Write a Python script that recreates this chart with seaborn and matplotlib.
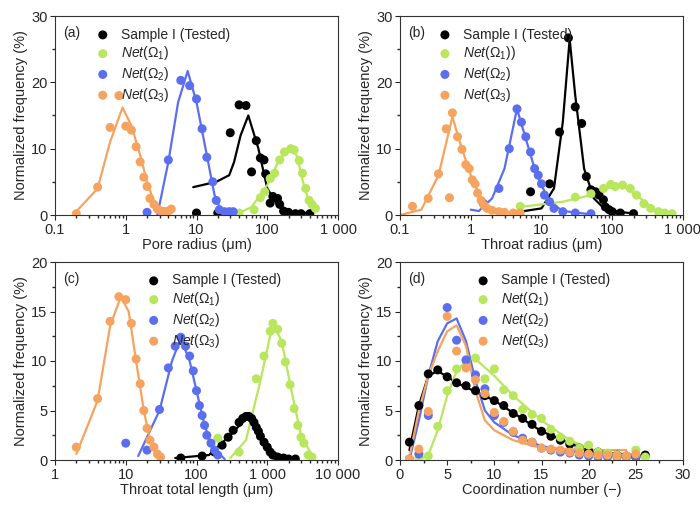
import matplotlib
matplotlib.use("Agg")
import matplotlib.pyplot as plt
import matplotlib.ticker as mt
import seaborn as sns
import numpy as np

sns.set_theme(style="ticks")
plt.rcParams['font.family'] = ['Liberation Sans', 'DejaVu Sans']
plt.rcParams['mathtext.fontset'] = 'custom'
plt.rcParams['mathtext.rm'] = 'Liberation Sans'
plt.rcParams['mathtext.it'] = 'Liberation Sans:italic'

C_BLACK, C_GREEN, C_BLUE, C_ORANGE = "#000000", "#b8e65c", "#5b6ef0", "#f5a35f"

# ---------- panel (a) pore radius ----------
a_or_x = [0.2,0.4,0.6,0.8,1.0,1.2,1.4,1.6,1.8,2.0,2.2,2.5,2.8,3.2,3.6,4.0,4.4]
a_or_y = [0.2,4.2,13.2,18,13.4,12.8,10.3,8,5.7,4.3,2.5,1.6,0.9,0.6,0.5,0.6,0.9]
a_or_fx = [0.18,0.4,0.6,0.9,1.2,1.6,2,2.5,3,4,4.5]
a_or_fy = [0,4,11,16.2,13.5,9,5,2,0.7,0.3,0.3]
a_bl_x = [2,4,6,8,10,12,14,17,19,21,25,29,33]
a_bl_y = [0.4,8.3,20.3,19.5,17.5,13,8.7,5,2.2,0.8,0.5,0.5,0.5]
a_bl_fx = [2.8,4,5.5,7.5,10,14,18,22,35]
a_bl_fy = [0,8,17,21.7,17,9,3,0.8,0]
a_bk_x = [10,20,30,40,50,60,70,80,90,95,110,120,140,150,170,200,250,300,400]
a_bk_y = [0.3,0.3,12.4,16.6,16.5,6.5,11.2,8.6,8.3,6.2,1.8,2.8,2.5,1.6,0.6,0.4,0.2,0.2,0.2]
a_bk_fx = [9,19,29,34,42,54,75,100,140,215,410]
a_bk_fy = [4.2,5,6,8,12,15,10,4,1.5,0.4,0.3]
a_gr_x = [40,65,80,92,110,127,150,175,215,240,283,315,350,390,430,480]
a_gr_y = [0.3,0.8,2.6,3.5,5.5,6.3,8.3,9.5,10,9.8,8.2,6.3,4,2.2,1.6,1]
a_gr_fx = [35,60,100,150,210,260,320,400,450]
a_gr_fy = [0,1.2,4.5,8.5,10,9,5,1.5,0.5]

# ---------- panel (b) throat radius ----------
b_or_x = [0.15,0.25,0.35,0.45,0.5,0.55,0.65,0.75,0.85,0.95,1.05,1.15,1.25,1.4,1.55,1.7,2,2.5,3,4,5]
b_or_y = [1.3,2.5,6.2,13,2.6,15.4,11.8,9.9,7.6,7,5.3,4.7,3.3,2.2,1.4,1,0.7,0.5,0.4,0.3,0.3]
b_or_fx = [0.1,0.2,0.35,0.55,0.7,1,1.4,2,3,5]
b_or_fy = [0,0.8,6,14.8,11,6,2.5,0.7,0.3,0.2]
b_bl_x = [1.5,2.5,3.5,4.5,5.2,6,7,8,9,10,11,13,15,20,30,50]
b_bl_y = [1.8,4,10,16,14,11.8,9.5,7,6,4.7,3,2,1,0.5,0.3,0.2]
b_bl_fx = [1.0,1.3,2,3,4.5,6,8,10,13,20,50]
b_bl_fy = [0.8,0.6,2.5,7,16,11.5,7,4.5,2,0.6,0.1]
b_bk_x = [7,13,18,24,30,37,43,50,58,65,75,80,90,100,130,200]
b_bk_y = [3.5,4.7,12.5,26.7,16.3,13.8,5.8,3.8,3.5,3,2.3,1.2,0.8,0.5,0.3,0.2]
b_bk_fx = [5,10,15,20,25,30,40,55,80,200]
b_bk_fy = [0.5,1,4,14,26.5,18,7,2.5,0.8,0.2]
b_gr_x = [5,30,50,75,95,110,140,180,220,280,350,450,550,700]
b_gr_y = [1.3,2.7,3.2,4,4.6,4.3,4.5,4,3,1.7,1,0.5,0.3,0.2]
b_gr_fx = [5,20,50,100,150,250,400,700]
b_gr_fy = [1.2,2,3,4.3,4.2,2.5,0.8,0.1]

# ---------- panel (c) throat total length ----------
c_or_x = [2,4,6,8,10,12,14,16,18,20,22,25,28,31]
c_or_y = [1.3,6.2,14,16.5,16.2,13.8,10.2,7.7,5,3.2,2,1.3,0.6,0.3]
c_or_fx = [2,4,6,8.5,11,14,18,22,30]
c_or_fy = [0.6,6,13.5,16.5,15,10,5,2,0.3]
c_bl_x = [10,20,30,40,50,60,70,80,90,100,110,120,130,140,160,180,200]
c_bl_y = [1.7,1,5.1,9.3,11.5,12.4,11.5,10.5,9,7,5.5,4.5,3.5,2.5,1.7,1,0.5]
c_bl_fx = [15,30,45,60,80,100,130,170,250]
c_bl_fy = [0.4,5,10,12.3,10,7,3.5,1.2,0.1]
c_bk_x = [60,120,180,230,280,330,400,450,500,550,600,650,700,750,800,900,1000,1100,1200,1400,1700,2000,2500]
c_bk_y = [0.2,0.4,0.8,1.5,2.3,3,3.8,4.2,4.4,4.4,4.2,3.8,3.3,2.9,2.4,1.8,1.3,0.8,0.5,0.3,0.2,0.1,0.1]
c_bk_fx = [50,150,300,550,800,1200,2500]
c_bk_fy = [0.2,0.5,2.5,4.5,2.5,0.6,0.05]
c_gr_x = [200,400,700,900,1100,1200,1400,1600,1800,2100,2400,2700,3000,3300,3800,4300]
c_gr_y = [2.2,0.8,8.2,10.5,13,13.8,13.2,11.8,9.9,7.6,5.2,3.5,2.3,1.7,0.5,0.3]
c_gr_fx = [300,500,800,1200,1600,2200,3000,4500]
c_gr_fy = [0.2,2,8,13.8,12,7,2.5,0.2]

# ---------- panel (d) coordination number ----------
d_bk_x = list(range(1, 27))
d_bk_y = [1.8,5.5,8.7,9.1,8.4,7.8,7.5,7.0,6.5,6.0,5.5,4.7,4.2,3.6,2.9,2.4,2.0,1.6,1.2,0.9,0.8,0.6,0.5,0.4,0.3,0.5]
d_bk_fx = [1,2,3,4,6,10,15,20,26]
d_bk_fy = [1,5.5,8.5,9,7.8,6,2.9,0.9,0.4]
d_gr_x = list(range(2, 27))
d_gr_y = [0.2,0.4,3.4,7,9.2,10.1,10.3,8.2,9.2,7.1,6.5,5.1,4.6,4.2,3.1,2.3,1.9,1.2,1.5,0.8,0.7,0.5,0.4,1.0,0.3]
d_gr_fx = [2,3,4,5,6,7,8,10,12,15,18,21,26]
d_gr_fy = [0,0.5,3,6.5,9,10,10.2,8.5,6.5,4,2,0.8,0.3]
d_bl_x = [1,2,3,5,6,7,8,9,10,11,12,13,14,15,16,17,18,19,20,21,22,23,24,25]
d_bl_y = [0.1,0.6,4.5,15.4,12.1,10.1,8.6,7.2,4.5,3.8,2.8,2.2,1.8,1.2,1.0,0.8,0.7,0.5,0.4,0.3,0.3,0.3,0.3,0.3]
d_bl_fx = [1,2,3,4,5,6,7,8,9,10,12,15,20,24]
d_bl_fy = [0,4,8.5,12,13.8,14.3,12,8,5,3.8,2.5,1.4,0.6,0.3]
d_or_x = [1,2,3,5,6,7,8,9,10,11,12,13,14,15,16,17,18,19,20,21,22,23,24,25]
d_or_y = [0.1,1.1,4.9,14.5,11,9.3,8.1,6.7,4.8,3.9,2.9,2,1.8,1.2,1.1,1.0,0.8,0.7,0.6,0.5,0.5,0.4,0.4,0.6]
d_or_fx = [1,2,3,4,5,6,7,8,9,10,12,15,20,24]
d_or_fy = [0.3,5,8.5,11,13,13.6,11.5,7,4,3,2,1.2,1,1]

labels_a = ["Sample I (Tested)", r"$\mathit{Net}(\mathit{\Omega}_1)$",
            r"$\mathit{Net}(\mathit{\Omega}_2)$", r"$\mathit{Net}(\mathit{\Omega}_3)$"]
labels_b = ["Sample I (Tested)", r"$\mathit{Net}(\mathit{\Omega}_1))$",
            r"$\mathit{Net}(\mathit{\Omega}_2)$", r"$\mathit{Net}(\mathit{\Omega}_3)$"]

fig = plt.figure(figsize=(7, 5.11), dpi=100)
boxes = [(55, 16, 338, 215), (400, 16, 683, 215), (55, 262, 338, 460), (400, 262, 683, 460)]
axes = [fig.add_axes([l/700, 1-b/511, (r-l)/700, (b-t)/511]) for l, t, r, b in boxes]

panels = [
    (axes[0], [(a_bk_x,a_bk_y,a_bk_fx,a_bk_fy,C_BLACK),(a_gr_x,a_gr_y,a_gr_fx,a_gr_fy,C_GREEN),
               (a_bl_x,a_bl_y,a_bl_fx,a_bl_fy,C_BLUE),(a_or_x,a_or_y,a_or_fx,a_or_fy,C_ORANGE)], labels_a),
    (axes[1], [(b_bk_x,b_bk_y,b_bk_fx,b_bk_fy,C_BLACK),(b_gr_x,b_gr_y,b_gr_fx,b_gr_fy,C_GREEN),
               (b_bl_x,b_bl_y,b_bl_fx,b_bl_fy,C_BLUE),(b_or_x,b_or_y,b_or_fx,b_or_fy,C_ORANGE)], labels_b),
    (axes[2], [(c_bk_x,c_bk_y,c_bk_fx,c_bk_fy,C_BLACK),(c_gr_x,c_gr_y,c_gr_fx,c_gr_fy,C_GREEN),
               (c_bl_x,c_bl_y,c_bl_fx,c_bl_fy,C_BLUE),(c_or_x,c_or_y,c_or_fx,c_or_fy,C_ORANGE)], labels_a),
    (axes[3], [(d_bk_x,d_bk_y,d_bk_fx,d_bk_fy,C_BLACK),(d_gr_x,d_gr_y,d_gr_fx,d_gr_fy,C_GREEN),
               (d_bl_x,d_bl_y,d_bl_fx,d_bl_fy,C_BLUE),(d_or_x,d_or_y,d_or_fx,d_or_fy,C_ORANGE)], labels_a),
]

for ax, series, labels in panels:
    for (x, y, fx, fy, c), lab in zip(series, labels):
        sns.lineplot(x=fx, y=fy, color=c, lw=1.6, ax=ax, sort=False, legend=False, estimator=None)
    for (x, y, fx, fy, c), lab in zip(series, labels):
        sns.scatterplot(x=x, y=y, color=c, s=42, edgecolor='none', ax=ax, label=lab, zorder=3)

fs = 10.5
def style(ax, tag, xlabel, ylim, yt, legloc):
    ax.set_ylim(*ylim)
    ax.set_yticks(yt)
    ax.set_xlabel(xlabel, fontsize=fs, labelpad=1)
    ax.set_ylabel("Normalized frequency (%)", fontsize=fs, labelpad=2)
    ax.tick_params(labelsize=fs, length=3.5, width=0.8, direction='out', pad=2)
    ax.tick_params(which='minor', length=2)
    for s in ax.spines.values():
        s.set_linewidth(0.8); s.set_color('#333333')
    ax.text(0.03, 0.95, tag, transform=ax.transAxes, fontsize=10, va='top')
    ax.legend(loc='upper left', bbox_to_anchor=legloc, frameon=False, fontsize=10,
              handletextpad=0.3, labelspacing=0.2, markerscale=1.0, borderaxespad=0)

def logx(ax, lo, hi, labs):
    ax.set_xscale('log')
    ax.set_xlim(lo, hi)
    ticks = [lo * 10**i for i in range(len(labs))]
    ax.set_xticks(ticks)
    ax.set_xticklabels(labs)
    ax.xaxis.set_minor_locator(mt.LogLocator(subs=np.arange(2, 10)))
    ax.xaxis.set_minor_formatter(mt.NullFormatter())

logx(axes[0], 0.1, 1000, ["0.1", "1", "10", "100", "1 000"])
style(axes[0], "(a)", "Pore radius (μm)", (0, 30), [0, 10, 20, 30], (0.10, 0.97))
logx(axes[1], 0.1, 1000, ["0.1", "1", "10", "100", "1 000"])
style(axes[1], "(b)", "Throat radius (μm)", (0, 30), [0, 10, 20, 30], (0.09, 0.97))
logx(axes[2], 1, 10000, ["1", "10", "100", "1 000", "10 000"])
style(axes[2], "(c)", "Throat total length (μm)", (0, 20), [0, 5, 10, 15, 20], (0.28, 0.97))
axes[3].set_xlim(0, 30)
axes[3].set_xticks([0, 5, 10, 15, 20, 25, 30])
axes[3].xaxis.set_minor_locator(mt.MultipleLocator(2.5))
style(axes[3], "(d)", "Coordination number (−)", (0, 20), [0, 5, 10, 15, 20], (0.225, 0.97))
for ax in axes[2:]:
    ax.yaxis.set_minor_locator(mt.MultipleLocator(2.5))
for ax in axes[:2]:
    ax.yaxis.set_minor_locator(mt.MultipleLocator(5))

fig.savefig("out.png", dpi=100, facecolor='white')
